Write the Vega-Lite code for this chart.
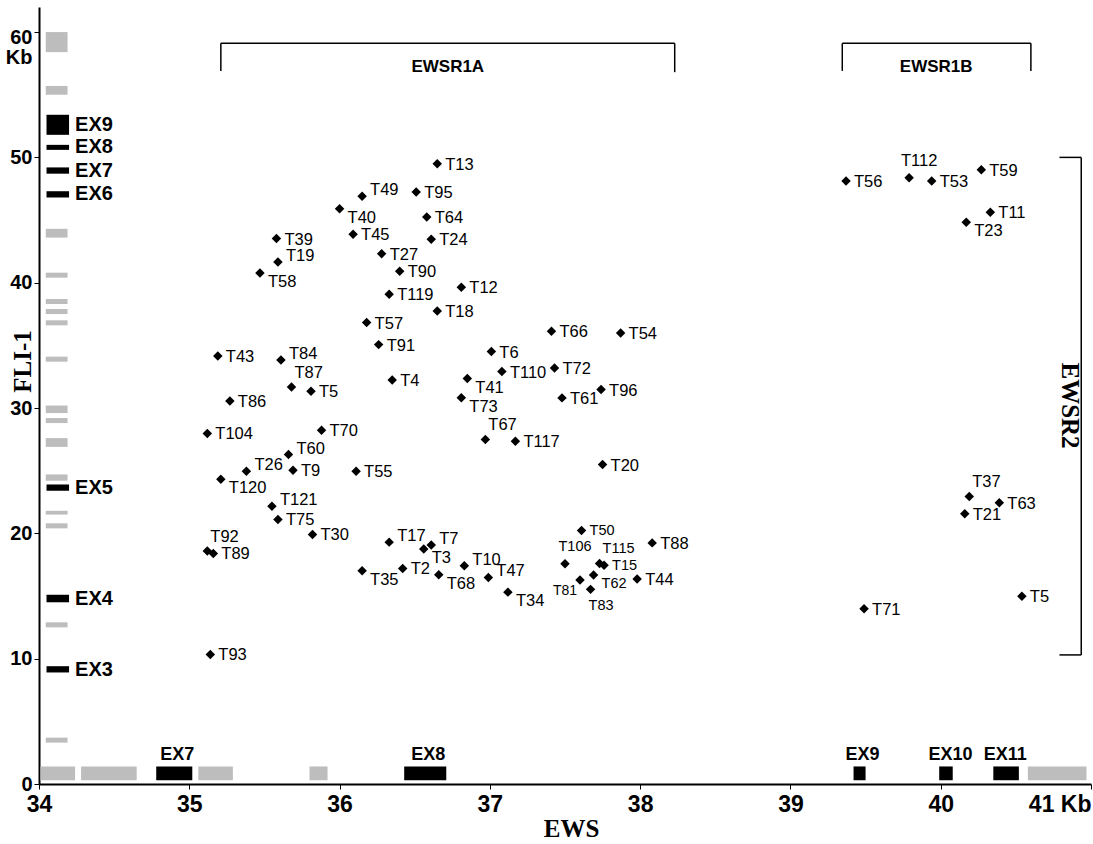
{
  "$schema": "https://vega.github.io/schema/vega-lite/v6.json",
  "width": 1052,
  "height": 777,
  "autosize": {"type": "none"},
  "padding": {"left": 39, "top": 7, "right": 2, "bottom": 60},
  "background": "white",
  "config": {
    "view": {"stroke": null},
    "axis": {"grid": false, "domainColor": "black", "tickColor": "black", "labelColor": "black", "titleColor": "black"}
  },
  "datasets": {
    "blocks": [
      {"x": 34.045, "x2": 34.19, "y": 58.4, "y2": 60.0, "kind": "repeat"},
      {"x": 34.045, "x2": 34.19, "y": 55.0, "y2": 55.7, "kind": "repeat"},
      {"x": 34.05, "x2": 34.2, "y": 51.8, "y2": 53.4, "kind": "exon"},
      {"x": 34.05, "x2": 34.2, "y": 50.6, "y2": 51.0, "kind": "exon"},
      {"x": 34.05, "x2": 34.2, "y": 48.7, "y2": 49.2, "kind": "exon"},
      {"x": 34.05, "x2": 34.2, "y": 46.8, "y2": 47.3, "kind": "exon"},
      {"x": 34.045, "x2": 34.19, "y": 43.6, "y2": 44.3, "kind": "repeat"},
      {"x": 34.045, "x2": 34.19, "y": 40.4, "y2": 40.8, "kind": "repeat"},
      {"x": 34.045, "x2": 34.19, "y": 38.3, "y2": 38.7, "kind": "repeat"},
      {"x": 34.045, "x2": 34.19, "y": 37.5, "y2": 37.9, "kind": "repeat"},
      {"x": 34.045, "x2": 34.19, "y": 36.6, "y2": 37.0, "kind": "repeat"},
      {"x": 34.045, "x2": 34.19, "y": 33.7, "y2": 34.1, "kind": "repeat"},
      {"x": 34.045, "x2": 34.19, "y": 29.6, "y2": 30.2, "kind": "repeat"},
      {"x": 34.045, "x2": 34.19, "y": 28.8, "y2": 29.2, "kind": "repeat"},
      {"x": 34.045, "x2": 34.19, "y": 26.9, "y2": 27.6, "kind": "repeat"},
      {"x": 34.045, "x2": 34.19, "y": 24.2, "y2": 24.7, "kind": "repeat"},
      {"x": 34.05, "x2": 34.2, "y": 23.4, "y2": 23.9, "kind": "exon"},
      {"x": 34.045, "x2": 34.19, "y": 21.5, "y2": 21.8, "kind": "repeat"},
      {"x": 34.045, "x2": 34.19, "y": 20.4, "y2": 20.8, "kind": "repeat"},
      {"x": 34.05, "x2": 34.2, "y": 14.5, "y2": 15.1, "kind": "exon"},
      {"x": 34.045, "x2": 34.19, "y": 12.5, "y2": 12.9, "kind": "repeat"},
      {"x": 34.05, "x2": 34.2, "y": 8.9, "y2": 9.4, "kind": "exon"},
      {"x": 34.045, "x2": 34.19, "y": 3.3, "y2": 3.7, "kind": "repeat"},
      {"x": 34.01, "x2": 34.24, "y": 0.3, "y2": 1.4, "kind": "repeat"},
      {"x": 34.28, "x2": 34.65, "y": 0.3, "y2": 1.4, "kind": "repeat"},
      {"x": 35.06, "x2": 35.29, "y": 0.3, "y2": 1.4, "kind": "repeat"},
      {"x": 35.8, "x2": 35.92, "y": 0.3, "y2": 1.4, "kind": "repeat"},
      {"x": 40.58, "x2": 40.97, "y": 0.3, "y2": 1.4, "kind": "repeat"},
      {"x": 34.78, "x2": 35.02, "y": 0.3, "y2": 1.4, "kind": "exon"},
      {"x": 36.43, "x2": 36.71, "y": 0.3, "y2": 1.4, "kind": "exon"},
      {"x": 39.42, "x2": 39.5, "y": 0.3, "y2": 1.4, "kind": "exon"},
      {"x": 39.99, "x2": 40.08, "y": 0.3, "y2": 1.4, "kind": "exon"},
      {"x": 40.35, "x2": 40.52, "y": 0.3, "y2": 1.4, "kind": "exon"}
    ],
    "exonLabels": [
      {"label": "EX9", "x": 34.24, "y": 52.6, "gene": "FLI1"},
      {"label": "EX8", "x": 34.24, "y": 50.8, "gene": "FLI1"},
      {"label": "EX7", "x": 34.24, "y": 48.95, "gene": "FLI1"},
      {"label": "EX6", "x": 34.24, "y": 47.05, "gene": "FLI1"},
      {"label": "EX5", "x": 34.24, "y": 23.6, "gene": "FLI1"},
      {"label": "EX4", "x": 34.24, "y": 14.8, "gene": "FLI1"},
      {"label": "EX3", "x": 34.24, "y": 9.1, "gene": "FLI1"},
      {"label": "EX7", "x": 34.92, "y": 2.35, "gene": "EWS"},
      {"label": "EX8", "x": 36.59, "y": 2.35, "gene": "EWS"},
      {"label": "EX9", "x": 39.48, "y": 2.35, "gene": "EWS"},
      {"label": "EX10", "x": 40.065, "y": 2.35, "gene": "EWS"},
      {"label": "EX11", "x": 40.43, "y": 2.35, "gene": "EWS"}
    ],
    "brackets": [
      {"x": 35.21, "x2": 38.23, "y": 59.1, "y2": 59.1},
      {"x": 35.21, "x2": 35.21, "y": 56.9, "y2": 59.1},
      {"x": 38.23, "x2": 38.23, "y": 56.8, "y2": 59.1},
      {"x": 39.345, "x2": 40.6, "y": 59.1, "y2": 59.1},
      {"x": 39.345, "x2": 39.345, "y": 56.9, "y2": 59.1},
      {"x": 40.6, "x2": 40.6, "y": 56.9, "y2": 59.1},
      {"x": 40.935, "x2": 40.935, "y": 10.3, "y2": 50.0},
      {"x": 40.79, "x2": 40.935, "y": 50.0, "y2": 50.0},
      {"x": 40.79, "x2": 40.935, "y": 10.3, "y2": 10.3}
    ],
    "regions": [
      {"label": "EWSR1A", "x": 36.72, "y": 57.2, "dir": "h"},
      {"label": "EWSR1B", "x": 39.97, "y": 57.2, "dir": "h"},
      {"label": "EWSR2", "x": 40.86, "y": 30.2, "dir": "v"}
    ],
    "points": [
      {"label": "T13", "x": 36.65, "y": 49.5, "pos": "r"},
      {"label": "T49", "x": 36.15, "y": 46.89, "pos": "ur"},
      {"label": "T95", "x": 36.51, "y": 47.23, "pos": "r"},
      {"label": "T40", "x": 36.0, "y": 45.91, "pos": "dr"},
      {"label": "T64", "x": 36.58, "y": 45.24, "pos": "r"},
      {"label": "T45", "x": 36.09, "y": 43.86, "pos": "r"},
      {"label": "T24", "x": 36.61, "y": 43.46, "pos": "r"},
      {"label": "T39", "x": 35.58, "y": 43.52, "pos": "r"},
      {"label": "T27", "x": 36.28, "y": 42.32, "pos": "r"},
      {"label": "T19", "x": 35.59, "y": 41.65, "pos": "ur"},
      {"label": "T90", "x": 36.4, "y": 40.91, "pos": "r"},
      {"label": "T58", "x": 35.47, "y": 40.77, "pos": "dr"},
      {"label": "T12", "x": 36.81, "y": 39.63, "pos": "r"},
      {"label": "T119", "x": 36.33, "y": 39.07, "pos": "r"},
      {"label": "T18", "x": 36.65, "y": 37.74, "pos": "r"},
      {"label": "T57", "x": 36.18, "y": 36.82, "pos": "r"},
      {"label": "T91", "x": 36.26, "y": 35.06, "pos": "r"},
      {"label": "T43", "x": 35.19, "y": 34.15, "pos": "r"},
      {"label": "T84", "x": 35.61, "y": 33.84, "pos": "ur"},
      {"label": "T87", "x": 35.68, "y": 31.68, "pos": "u"},
      {"label": "T5", "x": 35.81, "y": 31.34, "pos": "r"},
      {"label": "T4", "x": 36.35, "y": 32.24, "pos": "r"},
      {"label": "T41", "x": 36.85, "y": 32.35, "pos": "dr"},
      {"label": "T73", "x": 36.81, "y": 30.82, "pos": "dr"},
      {"label": "T86", "x": 35.27, "y": 30.57, "pos": "r"},
      {"label": "T104", "x": 35.12, "y": 27.97, "pos": "r"},
      {"label": "T70", "x": 35.88, "y": 28.23, "pos": "r"},
      {"label": "T60", "x": 35.66, "y": 26.29, "pos": "ur"},
      {"label": "T26", "x": 35.38, "y": 24.96, "pos": "ur"},
      {"label": "T9", "x": 35.69, "y": 25.04, "pos": "r"},
      {"label": "T55", "x": 36.11, "y": 24.96, "pos": "r"},
      {"label": "T120", "x": 35.21, "y": 24.32, "pos": "dr"},
      {"label": "T121", "x": 35.55, "y": 22.17, "pos": "ur"},
      {"label": "T75", "x": 35.59, "y": 21.11, "pos": "r"},
      {"label": "T30", "x": 35.82, "y": 19.91, "pos": "r"},
      {"label": "T17", "x": 36.33, "y": 19.3, "pos": "ur"},
      {"label": "T7", "x": 36.61, "y": 19.07, "pos": "ur"},
      {"label": "T3", "x": 36.56, "y": 18.76, "pos": "dr"},
      {"label": "T92", "x": 35.12, "y": 18.6, "pos": "u"},
      {"label": "T89", "x": 35.16, "y": 18.4, "pos": "r"},
      {"label": "T35", "x": 36.15, "y": 17.01, "pos": "dr"},
      {"label": "T2", "x": 36.42, "y": 17.2, "pos": "r"},
      {"label": "T68", "x": 36.66, "y": 16.69, "pos": "dr"},
      {"label": "T10", "x": 36.83, "y": 17.41, "pos": "ur"},
      {"label": "T47", "x": 36.99, "y": 16.48, "pos": "ur"},
      {"label": "T93", "x": 35.14, "y": 10.34, "pos": "r"},
      {"label": "T66", "x": 37.41, "y": 36.12, "pos": "r"},
      {"label": "T54", "x": 37.87, "y": 35.99, "pos": "r"},
      {"label": "T6", "x": 37.01, "y": 34.51, "pos": "r"},
      {"label": "T110", "x": 37.08, "y": 32.91, "pos": "r"},
      {"label": "T72", "x": 37.43, "y": 33.2, "pos": "r"},
      {"label": "T96", "x": 37.74, "y": 31.47, "pos": "r"},
      {"label": "T61", "x": 37.48, "y": 30.81, "pos": "r"},
      {"label": "T67", "x": 36.97, "y": 27.49, "pos": "u"},
      {"label": "T117", "x": 37.17, "y": 27.35, "pos": "r"},
      {"label": "T20", "x": 37.75, "y": 25.49, "pos": "r"},
      {"label": "T50", "x": 37.61, "y": 20.23, "pos": "r"},
      {"label": "T88", "x": 38.08, "y": 19.24, "pos": "r"},
      {"label": "T106", "x": 37.5, "y": 17.57, "pos": "uc"},
      {"label": "T115", "x": 37.73, "y": 17.6, "pos": "u"},
      {"label": "T15", "x": 37.76, "y": 17.45, "pos": "r"},
      {"label": "T62", "x": 37.69, "y": 16.67, "pos": "dr"},
      {"label": "T81", "x": 37.6, "y": 16.27, "pos": "dl"},
      {"label": "T83", "x": 37.67, "y": 15.53, "pos": "d"},
      {"label": "T44", "x": 37.98, "y": 16.35, "pos": "r"},
      {"label": "T34", "x": 37.12, "y": 15.31, "pos": "dr"},
      {"label": "T56", "x": 39.37, "y": 48.12, "pos": "r"},
      {"label": "T112", "x": 39.79, "y": 48.37, "pos": "uc"},
      {"label": "T53", "x": 39.94, "y": 48.12, "pos": "r"},
      {"label": "T59", "x": 40.27, "y": 49.01, "pos": "r"},
      {"label": "T11", "x": 40.33, "y": 45.63, "pos": "r"},
      {"label": "T23", "x": 40.17, "y": 44.82, "pos": "dr"},
      {"label": "T37", "x": 40.19, "y": 22.95, "pos": "u"},
      {"label": "T63", "x": 40.39, "y": 22.45, "pos": "r"},
      {"label": "T21", "x": 40.16, "y": 21.56, "pos": "r"},
      {"label": "T5", "x": 40.54, "y": 14.99, "pos": "r"},
      {"label": "T71", "x": 39.49, "y": 13.99, "pos": "r"}
    ]
  },
  "encoding": {
    "x": {
      "field": "x", "type": "quantitative",
      "scale": {"domain": [34, 41], "nice": false, "zero": false},
      "axis": {
        "values": [34, 35, 36, 37, 38, 39, 40, 41],
        "title": "EWS",
        "titleFont": "Liberation Serif", "titleFontSize": 25, "titleFontWeight": "bold",
        "titleX": 532, "titleY": 44, "titleBaseline": "middle",
        "labelFont": "Liberation Sans Narrow, Liberation Sans, sans-serif", "labelFontSize": 23, "labelFontWeight": "bold",
        "labelExpr": "datum.value == 41 ? '41 Kb' : datum.label",
        "labelAlign": {"condition": {"test": "datum.value == 41", "value": "right"}, "value": "center"},
        "labelFlush": false, "labelOverlap": false,
        "labelPadding": 4, "tickSize": 5, "domainWidth": 2
      }
    },
    "y": {
      "field": "y", "type": "quantitative",
      "scale": {"domain": [0, 62], "nice": false, "zero": false},
      "axis": {
        "values": [0, 10, 20, 30, 40, 50, 60],
        "title": "FLI-1",
        "titleFont": "Liberation Serif", "titleFontSize": 25, "titleFontWeight": "bold",
        "titleAngle": -90, "titleX": -17, "titleY": 354, "titleAlign": "center", "titleBaseline": "middle",
        "labelFont": "Liberation Sans Narrow, Liberation Sans, sans-serif", "labelFontSize": 20, "labelFontWeight": "bold",
        "labelExpr": "datum.value == 60 ? ['60', 'Kb'] : datum.label",
        "labelBaseline": {"condition": {"test": "datum.value == 60", "value": "top"}, "value": "middle"},
        "labelOffset": {"condition": {"test": "datum.value == 60", "value": -5}, "value": 0},
        "labelLineHeight": 20,
        "labelPadding": 2, "tickSize": 5, "domainWidth": 2
      }
    }
  },
  "layer": [
    {
      "data": {"name": "blocks"},
      "mark": {"type": "rect"},
      "encoding": {
        "x2": {"field": "x2"},
        "y2": {"field": "y2"},
        "color": {"field": "kind", "type": "nominal", "scale": {"domain": ["exon", "repeat"], "range": ["#000000", "#bdbdbd"]}, "legend": null}
      }
    },
    {
      "data": {"name": "exonLabels"},
      "transform": [{"filter": "datum.gene == 'FLI1'"}],
      "mark": {"type": "text", "align": "left", "baseline": "middle", "font": "Liberation Sans Narrow, Liberation Sans, sans-serif", "fontWeight": "bold", "fontSize": 20, "color": "black"},
      "encoding": {"text": {"field": "label"}}
    },
    {
      "data": {"name": "exonLabels"},
      "transform": [{"filter": "datum.gene == 'EWS'"}],
      "mark": {"type": "text", "align": "center", "baseline": "middle", "font": "Liberation Sans Narrow, Liberation Sans, sans-serif", "fontWeight": "bold", "fontSize": 18, "color": "black"},
      "encoding": {"text": {"field": "label"}}
    },
    {
      "data": {"name": "brackets"},
      "mark": {"type": "rule", "color": "black", "strokeWidth": 1.5},
      "encoding": {"x2": {"field": "x2"}, "y2": {"field": "y2"}}
    },
    {
      "data": {"name": "regions"},
      "transform": [{"filter": "datum.dir == 'h'"}],
      "mark": {"type": "text", "align": "center", "baseline": "middle", "font": "Liberation Sans", "fontWeight": "bold", "fontSize": 17, "color": "black"},
      "encoding": {"text": {"field": "label"}}
    },
    {
      "data": {"name": "regions"},
      "transform": [{"filter": "datum.dir == 'v'"}],
      "mark": {"type": "text", "align": "center", "baseline": "middle", "angle": 90, "font": "Liberation Serif", "fontWeight": "bold", "fontSize": 25, "color": "black"},
      "encoding": {"text": {"field": "label"}}
    },
    {
      "data": {"name": "points"},
      "mark": {"type": "point", "shape": "diamond", "filled": true, "color": "black", "opacity": 1, "size": 90}
    },
    {
      "data": {"name": "points"},
      "transform": [{"filter": "datum.pos == 'r'"}],
      "mark": {"type": "text", "align": "left", "baseline": "middle", "dx": 8, "dy": 1, "font": "Liberation Sans", "color": "black"},
      "encoding": {
        "text": {"field": "label"},
        "size": {"condition": {"test": "indexof(['T50','T15','T62','T81','T83','T106','T115'], datum.label) >= 0", "value": 14.5}, "value": 16.5}
      }
    },
    {
      "data": {"name": "points"},
      "transform": [{"filter": "datum.pos == 'ur'"}],
      "mark": {"type": "text", "align": "left", "baseline": "middle", "dx": 8, "dy": -6, "font": "Liberation Sans", "fontSize": 16.5, "color": "black"},
      "encoding": {"text": {"field": "label"}}
    },
    {
      "data": {"name": "points"},
      "transform": [{"filter": "datum.pos == 'dr'"}],
      "mark": {"type": "text", "align": "left", "baseline": "middle", "dx": 8, "dy": 9, "font": "Liberation Sans", "color": "black"},
      "encoding": {
        "text": {"field": "label"},
        "size": {"condition": {"test": "indexof(['T50','T15','T62','T81','T83','T106','T115'], datum.label) >= 0", "value": 14.5}, "value": 16.5}
      }
    },
    {
      "data": {"name": "points"},
      "transform": [{"filter": "datum.pos == 'u'"}],
      "mark": {"type": "text", "align": "left", "baseline": "middle", "dx": 3, "dy": -14, "font": "Liberation Sans", "color": "black"},
      "encoding": {
        "text": {"field": "label"},
        "size": {"condition": {"test": "indexof(['T50','T15','T62','T81','T83','T106','T115'], datum.label) >= 0", "value": 14.5}, "value": 16.5}
      }
    },
    {
      "data": {"name": "points"},
      "transform": [{"filter": "datum.pos == 'uc'"}],
      "mark": {"type": "text", "align": "center", "baseline": "middle", "dx": 10, "dy": -17, "font": "Liberation Sans", "color": "black"},
      "encoding": {
        "text": {"field": "label"},
        "size": {"condition": {"test": "indexof(['T50','T15','T62','T81','T83','T106','T115'], datum.label) >= 0", "value": 14.5}, "value": 16.5}
      }
    },
    {
      "data": {"name": "points"},
      "transform": [{"filter": "datum.pos == 'd'"}],
      "mark": {"type": "text", "align": "left", "baseline": "middle", "dx": -2, "dy": 17, "font": "Liberation Sans", "fontSize": 14.5, "color": "black"},
      "encoding": {"text": {"field": "label"}}
    },
    {
      "data": {"name": "points"},
      "transform": [{"filter": "datum.pos == 'dl'"}],
      "mark": {"type": "text", "align": "right", "baseline": "middle", "dx": -3, "dy": 11, "font": "Liberation Sans", "fontSize": 14, "color": "black"},
      "encoding": {"text": {"field": "label"}}
    }
  ]
}
